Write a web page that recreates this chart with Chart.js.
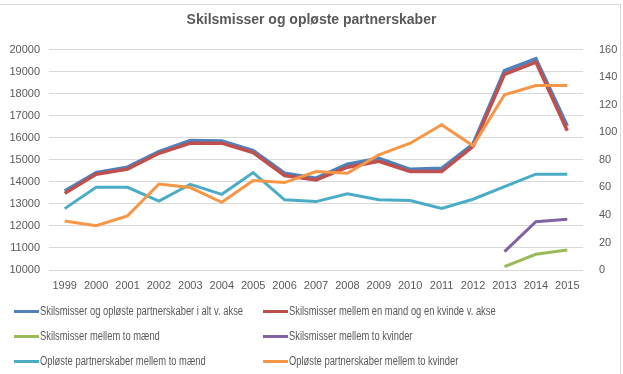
<!DOCTYPE html>
<html>
<head>
<meta charset="utf-8">
<script src="https://cdn.jsdelivr.net/npm/chart.js@4"></script>
<style>
    body { margin: 0; background: #fff; }
    #wrap { position: relative; width: 623px; height: 374px; overflow: hidden; }
    #frame { position: absolute; left: -2px; top: 4px; width: 623px; height: 380px; border: 1px solid #d9d9d9; box-sizing: border-box; }
    #legend { position: absolute; left: 0; top: 301px; width: 623px; font-family: "Liberation Sans", Arial, sans-serif; font-size: 12.5px; color: #595959; }
    .item { position: absolute; height: 20px; line-height: 20px; white-space: nowrap; }
    .item span.mark { display: inline-block; width: 25px; height: 3px; vertical-align: middle; margin-right: 1px; }
    .item span.txt { display: inline-block; transform: scaleX(0.75); transform-origin: left center; }
</style>
</head>
<body>
<div id="wrap">
    <div id="frame"></div>
    <canvas id="chart" width="623" height="374"></canvas>
    <div id="legend"></div>
</div>
<script>
let years = ["1999", "2000", "2001", "2002", "2003", "2004", "2005", "2006", "2007", "2008", "2009", "2010", "2011", "2012", "2013", "2014", "2015"];

// left axis
let total = [13590, 14420, 14670, 15380, 15880, 15860, 15420, 14400, 14170, 14800, 15070, 14570, 14620, 15720, 19050, 19590, 16540];
let manKvinde = [13480, 14350, 14580, 15300, 15760, 15760, 15330, 14290, 14090, 14670, 14940, 14470, 14470, 15610, 18890, 19440, 16320];

// right axis
let toMaend = [null, null, null, null, null, null, null, null, null, null, null, null, null, null, 2.4, 11.4, 14.5];
let toKvinder = [null, null, null, null, null, null, null, null, null, null, null, null, null, null, 13.3, 35.1, 36.9];
let partnerMaend = [44.6, 60.1, 60.1, 50, 62.3, 55, 70.8, 51, 49.7, 55.3, 51, 50.5, 44.8, 51.4, 60.6, 69.6, 69.6];
let partnerKvinder = [35.6, 32.2, 39.3, 62.5, 59.9, 49.2, 65, 63.5, 71.5, 70.3, 83.6, 92.1, 105.5, 90.2, 127.3, 134, 134];

let labels = [
    "Skilsmisser og opløste partnerskaber i alt v. akse",
    "Skilsmisser mellem en mand og en kvinde v. akse",
    "Skilsmisser mellem to mænd",
    "Skilsmisser mellem to kvinder",
    "Opløste partnerskaber mellem to mænd",
    "Opløste partnerskaber mellem to kvinder"
];
let colors = ["#4f81bd", "#c0504d", "#9bbb59", "#8064a2", "#4bacc6", "#f79646"];
let values = [total, manKvinde, toMaend, toKvinder, partnerMaend, partnerKvinder];
let axes = ["y", "y", "y1", "y1", "y1", "y1"];

let datasets = values.map((v, i) => ({
    label: labels[i],
    data: v,
    yAxisID: axes[i],
    borderColor: colors[i],
    backgroundColor: colors[i],
    borderWidth: i < 2 ? 3.5 : 3,
    pointRadius: 0,
    tension: 0,
    fill: false,
    order: 6 - i
}));

let tickFont = { family: "Liberation Sans, Arial, sans-serif", size: 11 };

new Chart(document.getElementById("chart").getContext("2d"), {
    type: "line",
    data: { labels: years, datasets: datasets },
    options: {
        responsive: false,
        animation: false,
        layout: { padding: { left: 0, right: 0, top: 0, bottom: 84 } },
        plugins: {
            legend: { display: false },
            tooltip: { enabled: false },
            title: {
                display: true,
                text: "Skilsmisser og opløste partnerskaber",
                color: "#595959",
                font: { family: "Liberation Sans, Arial, sans-serif", size: 14, weight: "bold" },
                padding: { top: 12, bottom: 21 }
            }
        },
        scales: {
            x: {
                offset: true,
                grid: { display: false },
                border: { display: false },
                ticks: { color: "#595959", font: tickFont, maxRotation: 0, autoSkip: false, padding: 1 },
                afterFit: s => { s.height = 20; }
            },
            y: {
                position: "left",
                min: 10000,
                max: 20000,
                ticks: { stepSize: 1000, color: "#595959", font: tickFont, padding: 9, callback: v => String(v) },
                grid: { color: "#d9d9d9", drawTicks: false },
                border: { display: false },
                afterFit: s => { s.width = 49; }
            },
            y1: {
                position: "right",
                min: 0,
                max: 160,
                ticks: { stepSize: 20, color: "#595959", font: tickFont, padding: 8, callback: v => String(v) },
                grid: { display: false },
                border: { display: false },
                afterFit: s => { s.width = 40; }
            }
        }
    }
});

// two-column legend like the original
let legend = document.getElementById("legend");
labels.forEach((text, i) => {
    let div = document.createElement("div");
    div.className = "item";
    div.style.left = (i % 2 === 0 ? 14 : 263) + "px";
    div.style.top = (Math.floor(i / 2) * 25) + "px";
    div.innerHTML = '<span class="mark" style="background:' + colors[i] + '"></span><span class="txt">' + text + '</span>';
    legend.appendChild(div);
});
</script>
</body>
</html>
